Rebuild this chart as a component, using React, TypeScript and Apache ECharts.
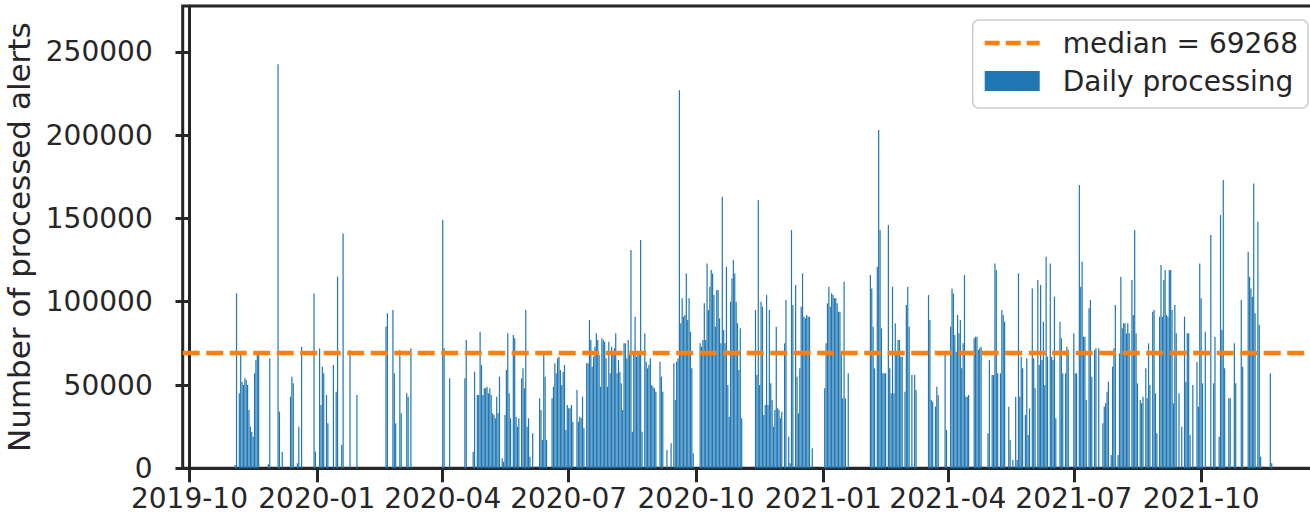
import React, { useEffect, useRef } from "react";
import * as echarts from "echarts";

// Daily processed alerts, one array per calendar quarter (index 0 = first day of the quarter, 0 = no processing that day)
const q4_2019 = [
  0, 0, 0, 0, 0, 0, 0, 0, 0, 0,
  0, 0, 0, 0, 0, 0, 0, 0, 0, 0,
  0, 0, 0, 0, 0, 0, 0, 0, 0, 0,
  0, 0, 0, 2000, 105000, 0, 45000, 69000, 52000, 50000,
  54000, 53000, 50000, 35000, 25000, 22000, 19000, 57000, 65000, 68000,
  68000, 0, 0, 0, 0, 0, 0, 2500, 66000, 0,
  0, 0, 0, 0, 242600, 34000, 0, 10000, 0, 0,
  0, 0, 0, 43000, 55000, 51000, 0, 0, 3000, 25000,
  0, 73000, 0, 0, 0, 0, 0, 0, 0, 0,
  105000, 10000,
];
const q1_2020 = [
  0, 0, 72000, 38000, 61000, 57000, 0, 44000, 27000, 0,
  0, 0, 62000, 0, 46000, 115000, 0, 0, 14000, 141000,
  0, 0, 0, 0, 71000, 0, 0, 0, 0, 44000,
  0, 0, 0, 0, 0, 0, 0, 0, 0, 0,
  0, 0, 0, 0, 0, 0, 0, 0, 0, 0,
  85000, 93000, 0, 0, 0, 95000, 57000, 27000, 0, 0,
  71000, 33000, 0, 0, 0, 45000, 43000, 0, 72000, 0,
  0, 0, 0, 0, 0, 0, 0, 0, 0, 0,
  0, 0, 0, 0, 0, 0, 0, 0, 0, 0,
  0,
];
const q2_2020 = [
  149000, 72000, 0, 0, 0, 54000, 0, 0, 0, 0,
  0, 0, 0, 0, 0, 0, 54000, 77000, 0, 0,
  0, 0, 10000, 58000, 0, 44000, 44000, 82000, 62000, 44000,
  48000, 48000, 49000, 45000, 48000, 44000, 33000, 32000, 30000, 43000,
  33000, 55000, 0, 6000, 4000, 32000, 59000, 81000, 45000, 30000,
  0, 80000, 78000, 31000, 25000, 30000, 0, 54000, 60000, 48000,
  95000, 25000, 30000, 7000, 0, 21000, 0, 0, 0, 0,
  42000, 35000, 17000, 69000, 55000, 17000, 0, 0, 0, 42000,
  49000, 63000, 57000, 66000, 67000, 59000, 50000, 58000, 62000, 23000,
  38000,
];
const q3_2020 = [
  36000, 36000, 38000, 28000, 0, 0, 47000, 28000, 31000, 30000,
  43000, 24000, 0, 63000, 63000, 89000, 77000, 61000, 67000, 73000,
  81000, 77000, 68000, 49000, 78000, 77000, 76000, 66000, 49000, 76000,
  57000, 73000, 69000, 72000, 81000, 57000, 65000, 58000, 51000, 35000,
  75000, 75000, 66000, 77000, 68000, 131000, 22000, 70000, 91000, 67000,
  68000, 70000, 137000, 22000, 0, 81000, 64000, 60000, 62000, 66000,
  50000, 49000, 48000, 46000, 0, 0, 64000, 55000, 46000, 0,
  0, 11000, 0, 0, 15000, 0, 63000, 41000, 64000, 66000,
  227000, 87000, 102000, 91000, 92000, 117000, 89000, 102000, 82000, 60000,
  9000, 0,
];
const q4_2020 = [
  0, 0, 0, 75000, 73000, 77000, 99000, 77000, 123000, 95000,
  109000, 119000, 117000, 104000, 85000, 107000, 107000, 90000, 75000, 163000,
  83000, 75000, 121000, 50000, 31000, 100000, 114000, 125000, 117000, 100000,
  87000, 59000, 84000, 30000, 0, 0, 0, 0, 0, 0,
  0, 0, 0, 95000, 56000, 161000, 50000, 100000, 97000, 32000,
  38000, 104000, 38000, 95000, 51000, 41000, 25000, 35000, 85000, 36000,
  35000, 30000, 34000, 0, 75000, 101000, 0, 19000, 3000, 143000,
  98000, 0, 110000, 55000, 33000, 60000, 97000, 117000, 91000, 90000,
  92000, 91000, 91000, 0, 12000, 0, 0, 0, 0, 0,
  0, 0,
];
const q1_2021 = [
  0, 48000, 75000, 99000, 109000, 97000, 105000, 104000, 102000, 102000,
  99000, 94000, 94000, 70000, 42000, 112000, 42000, 0, 57000, 0,
  0, 0, 0, 0, 0, 0, 0, 0, 0, 0,
  0, 0, 0, 0, 116000, 108000, 85000, 60000, 0, 121000,
  203000, 143000, 84000, 57000, 57000, 57000, 0, 146000, 60000, 45000,
  109000, 45000, 87000, 70000, 77000, 77000, 67000, 67000, 0, 46000,
  98000, 109000, 85000, 0, 56000, 0, 56000, 47000, 0, 0,
  0, 0, 0, 0, 0, 0, 104000, 89000, 41000, 40000,
  0, 37000, 49000, 44000, 0, 0, 0, 0, 68000, 23000,
];
const q2_2021 = [
  0, 0, 85000, 108000, 105000, 80000, 70000, 92000, 81000, 89000,
  60000, 75000, 116000, 43000, 43000, 44000, 0, 0, 0, 78000,
  79000, 79000, 71000, 72000, 73000, 0, 0, 0, 0, 21000,
  65000, 0, 56000, 56000, 123000, 119000, 57000, 0, 57000, 95000,
  92000, 88000, 0, 0, 37000, 17000, 0, 5000, 0, 43000,
  5000, 117000, 43000, 67000, 60000, 0, 32000, 66000, 20000, 36000,
  0, 108000, 66000, 48000, 0, 113000, 62000, 110000, 65000, 88000,
  50000, 127000, 67000, 0, 123000, 67000, 65000, 103000, 30000, 0,
  0, 88000, 78000, 57000, 0, 57000, 73000, 71000, 0, 0,
  0,
];
const q3_2021 = [
  81000, 57000, 57000, 0, 170000, 109000, 124000, 79000, 79000, 41000,
  0, 96000, 101000, 55000, 0, 71000, 72000, 0, 72000, 0,
  0, 27000, 37000, 39000, 46000, 52000, 0, 8000, 61000, 72000,
  98000, 0, 8000, 69000, 115000, 84000, 87000, 87000, 81000, 87000,
  81000, 0, 113000, 92000, 143000, 81000, 51000, 0, 41000, 39000,
  43000, 0, 60000, 42000, 75000, 50000, 0, 94000, 95000, 45000,
  21000, 0, 91000, 122000, 91000, 113000, 119000, 92000, 91000, 119000,
  119000, 95000, 39000, 98000, 81000, 0, 45000, 0, 25000, 0,
  91000, 52000, 81000, 81000, 20000, 0, 50000, 0, 0, 64000,
  37000, 123000,
];
const q4_2021 = [
  102000, 51000, 0, 82000, 0, 0, 0, 140000, 0, 51000,
  79000, 0, 0, 19000, 152000, 83000, 173000, 60000, 0, 0,
  42000, 42000, 0, 0, 75000, 51000, 0, 0, 0, 101000,
  61000, 0, 0, 0, 130000, 115000, 108000, 103000, 171000, 93000,
  0, 148000, 86000, 7000, 0, 0, 0, 0, 0, 0,
  57000, 3000,
];

const quarterStarts = [
  "2019-10-01", "2020-01-01", "2020-04-01", "2020-07-01", "2020-10-01",
  "2021-01-01", "2021-04-01", "2021-07-01", "2021-10-01",
];
const quarterValues = [
  q4_2019, q1_2020, q2_2020, q3_2020, q4_2020, q1_2021, q2_2021, q3_2021, q4_2021,
];

const tickLabels = [
  "2019-10", "2020-01", "2020-04", "2020-07", "2020-10",
  "2021-01", "2021-04", "2021-07", "2021-10",
];
const yTicks = [0, 50000, 100000, 150000, 200000, 250000];
const MEDIAN = 69268;

// x is measured in days since 2019-10-01
const DAY_MS = 86400000;
const ORIGIN = Date.UTC(2019, 9, 1);
const dayOf = (iso: string) =>
  Math.round((Date.parse(iso + "T00:00:00Z") - ORIGIN) / DAY_MS);

const X_MIN = -4.9;
const X_MAX = 814;
const Y_MAX = 277500;

const INK = "#262626";
const FONT = "DejaVu Sans";
// three-dash legend handle for the dashed median line
const DASH_ICON = "path://M0,0H15V4.5H0Z M21,0H36V4.5H21Z M42,0H55V4.5H42Z";

export default function App() {
  const ref = useRef<HTMLDivElement>(null);

  useEffect(() => {
    if (!ref.current) return;
    const chart = echarts.init(ref.current, undefined, { renderer: "svg" });

    const bars: [number, number][] = [];
    quarterStarts.forEach((start, qi) => {
      const base = dayOf(start);
      quarterValues[qi].forEach((v, i) => {
        if (v > 0) bars.push([base + i, v]);
      });
    });

    const xTicks = tickLabels.map((l) => dayOf(l + "-01"));
    const medianName = `median = ${MEDIAN}`;

    chart.setOption({
      animation: false,
      grid: {
        left: 182.7,
        top: 6,
        width: 1316 - 182.7,
        height: 468.3 - 6,
        show: true,
        borderColor: INK,
        borderWidth: 3,
        backgroundColor: "transparent",
        containLabel: false,
        outerBoundsMode: "none",
      },
      xAxis: {
        type: "value",
        min: X_MIN,
        max: X_MAX,
        splitLine: { show: false },
        axisLine: { show: true, lineStyle: { color: INK, width: 3 } },
        axisTick: {
          show: true,
          length: 14,
          lineStyle: { color: INK, width: 3 },
          customValues: xTicks,
        },
        axisLabel: {
          customValues: xTicks,
          formatter: (v: number) => {
            const i = xTicks.findIndex((t) => Math.abs(t - v) < 0.5);
            return i >= 0 ? tickLabels[i] : "";
          },
          fontSize: 28,
          lineHeight: 28,
          fontFamily: FONT,
          color: INK,
          margin: 16,
        },
      },
      yAxis: {
        type: "value",
        min: 0,
        max: Y_MAX,
        splitLine: { show: false },
        axisLine: { show: true, lineStyle: { color: INK, width: 3 } },
        axisTick: {
          show: true,
          length: 14,
          lineStyle: { color: INK, width: 3 },
          customValues: yTicks,
        },
        axisLabel: {
          customValues: yTicks,
          formatter: (v: number) => String(Math.round(v)),
          fontSize: 28,
          lineHeight: 24,
          fontFamily: FONT,
          color: INK,
          margin: 30,
        },
        name: "Number of processed alerts",
        nameLocation: "middle",
        nameGap: 137,
        nameTextStyle: { fontSize: 31, fontFamily: FONT, color: INK },
      },
      legend: {
        orient: "vertical",
        right: 2,
        top: 20,
        padding: [9, 10, 13, 12],
        itemGap: 10,
        itemWidth: 55,
        itemHeight: 20,
        backgroundColor: "rgba(255,255,255,0.8)",
        borderColor: "#cccccc",
        borderWidth: 1.5,
        borderRadius: 6,
        textStyle: {
          fontSize: 28,
          fontFamily: FONT,
          color: INK,
          padding: [0, 0, 0, 18],
        },
        data: [
          { name: medianName, icon: DASH_ICON },
          { name: "Daily processing", icon: "rect" },
        ],
      },
      series: [
        {
          type: "bar",
          name: "Daily processing",
          data: bars,
          barWidth: 1.2,
          itemStyle: { color: "#1f77b4" },
        },
        {
          type: "line",
          name: medianName,
          data: [
            [X_MIN, MEDIAN],
            [X_MAX, MEDIAN],
          ],
          symbol: "none",
          itemStyle: { color: "#ff7f0e" },
          lineStyle: { color: "#ff7f0e", width: 4.5, type: [17, 6.5] },
        },
      ],
    });

    return () => chart.dispose();
  }, []);

  return (
    <div
      ref={ref}
      style={{ position: "absolute", left: 0, top: 0, width: 1310, height: 516 }}
    />
  );
}
